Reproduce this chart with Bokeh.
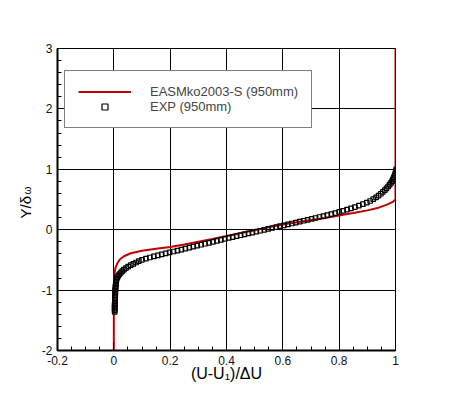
import math
from bokeh.plotting import figure
from bokeh.models import (Range1d, SingleIntervalTicker, CustomJSTickFormatter,
                          Label, Legend, LegendItem)
from bokeh.embed import file_html
from bokeh.resources import INLINE

# ---------------- data ----------------
model_name = "EASMko2003-S (950mm)"
exp_name = "EXP (950mm)"
x_label = "(U-U\u2081)/\u0394U"
y_label_main = "Y/\u03b4"
y_label_sub = "\u03c9"

model_x = [0.0, 0.0, 0.001, 0.003, 0.006, 0.012, 0.022, 0.036, 0.06, 0.1, 0.15, 0.2,
           0.25, 0.3, 0.35, 0.4, 0.45, 0.5, 0.55, 0.6, 0.65, 0.7, 0.75, 0.8, 0.85,
           0.9, 0.94, 0.97, 0.99, 1.0, 1.0]
model_y = [-2.0, -0.95, -0.80, -0.70, -0.63, -0.56, -0.49, -0.44, -0.39, -0.35, -0.315,
           -0.285, -0.245, -0.2, -0.155, -0.105, -0.055, -0.01, 0.04, 0.085, 0.125,
           0.16, 0.195, 0.235, 0.275, 0.32, 0.365, 0.415, 0.46, 0.5, 3.0]

exp_x = [0.003, 0.003, 0.003, 0.003, 0.003, 0.003, 0.004, 0.004, 0.004, 0.004, 0.004,
         0.005, 0.005, 0.005, 0.005, 0.006, 0.006, 0.006, 0.007, 0.007, 0.008, 0.009,
         0.010, 0.013, 0.016, 0.020, 0.025, 0.030, 0.036, 0.043, 0.051, 0.060, 0.069,
         0.079, 0.089, 0.100,
         0.114, 0.128, 0.142, 0.156, 0.170, 0.184, 0.198, 0.212, 0.226, 0.240, 0.254,
         0.268, 0.282, 0.296, 0.310, 0.324, 0.338, 0.352, 0.366, 0.380, 0.394, 0.408,
         0.422, 0.436, 0.450, 0.464, 0.478, 0.492, 0.506, 0.520, 0.534, 0.548, 0.562,
         0.576, 0.590, 0.604, 0.618, 0.632, 0.646, 0.660, 0.674, 0.688, 0.702, 0.716,
         0.730, 0.744, 0.758, 0.772, 0.786, 0.800, 0.814, 0.828, 0.842, 0.856, 0.870,
         0.884, 0.898,
         0.910, 0.921, 0.931, 0.940, 0.948, 0.955, 0.962, 0.968, 0.974, 0.979, 0.984,
         0.988, 0.991, 0.994, 0.997, 0.999, 1.001, 1.002, 1.003]
exp_y = [-1.36, -1.335, -1.31, -1.285, -1.26, -1.235, -1.21, -1.185, -1.16, -1.135, -1.11,
         -1.085, -1.06, -1.035, -1.01, -0.985, -0.96, -0.935, -0.91, -0.885, -0.86, -0.835,
         -0.81, -0.785, -0.76, -0.735, -0.71, -0.685, -0.66, -0.635, -0.611, -0.588, -0.566,
         -0.543, -0.520, -0.498,
         -0.478, -0.460, -0.443, -0.426, -0.410, -0.393, -0.377, -0.361, -0.345, -0.329,
         -0.313, -0.297, -0.281, -0.265, -0.249, -0.233, -0.217, -0.201, -0.185, -0.169,
         -0.153, -0.137, -0.122, -0.107, -0.092, -0.077, -0.062, -0.047, -0.032, -0.017,
         -0.002, 0.013, 0.028, 0.043, 0.058, 0.073, 0.088, 0.103, 0.118, 0.133, 0.148,
         0.163, 0.178, 0.194, 0.210, 0.226, 0.242, 0.259, 0.276, 0.294, 0.313, 0.333,
         0.353, 0.375, 0.398, 0.422, 0.447,
         0.475, 0.505, 0.535, 0.565, 0.595, 0.625, 0.655, 0.685, 0.715, 0.745, 0.775,
         0.805, 0.835, 0.865, 0.895, 0.925, 0.955, 0.98, 1.0]

# ---------------- figure ----------------
FONT = "Liberation Sans"

p = figure(width=434, height=385, x_range=Range1d(-0.2, 1.0), y_range=Range1d(-2, 3),
           output_backend="svg", toolbar_location=None,
           min_border_left=57, min_border_right=39, min_border_top=48, min_border_bottom=35)
p.background_fill_color = "white"
p.border_fill_color = "white"
p.outline_line_color = "black"
p.outline_line_width = 1

xt = SingleIntervalTicker(interval=0.2, num_minor_ticks=4)
yt = SingleIntervalTicker(interval=1, num_minor_ticks=5)
p.xaxis.ticker = xt
p.xgrid.ticker = xt
p.yaxis.ticker = yt
p.ygrid.ticker = yt

fmt = CustomJSTickFormatter(code="return String(Math.round(tick*10)/10);")
for ax in (p.xaxis, p.yaxis):
    ax.formatter = fmt
    ax.axis_line_color = "black"
    ax.axis_line_width = 2
    ax.major_tick_in = 8
    ax.major_tick_out = 0
    ax.minor_tick_in = 4
    ax.minor_tick_out = 0
    ax.major_tick_line_color = "black"
    ax.minor_tick_line_color = "black"
    ax.major_label_text_font = FONT
    ax.major_label_text_font_size = "12px"
    ax.major_label_text_color = "#111111"
p.xaxis.major_label_standoff = 5
p.yaxis.major_label_standoff = 5

p.xaxis.axis_label = x_label
p.xaxis.axis_label_standoff = -3
p.xaxis.axis_label_text_font = FONT
p.xaxis.axis_label_text_font_size = "16px"
p.xaxis.axis_label_text_font_style = "normal"
p.xaxis.axis_label_text_color = "black"

for g in (p.xgrid, p.ygrid):
    g.grid_line_color = "black"
    g.grid_line_width = 1
    g.grid_line_alpha = 1.0

r1 = p.line(model_x, model_y, line_color="#c00000", line_width=2)
r2 = p.scatter(exp_x, exp_y, marker="square", size=4.5, fill_color=None,
               line_color="black", line_width=1.2)

legend = Legend(items=[LegendItem(label=model_name, renderers=[r1]),
                       LegendItem(label=exp_name, renderers=[r2])],
                location=(7, 222), border_line_color="black", border_line_width=1,
                background_fill_color="white", background_fill_alpha=1.0,
                padding=13, spacing=0, margin=0, glyph_width=53, glyph_height=15,
                label_height=15, label_width=136, label_standoff=19,
                label_text_font=FONT, label_text_font_size="13px")
p.add_layout(legend)

# y-axis label with a subscript, placed in the left side panel
p.add_layout(Label(x=4, y=132, x_units="screen", y_units="screen", text=y_label_main,
                   angle=math.pi / 2, text_align="left", text_baseline="alphabetic",
                   text_font=FONT, text_font_size="15px", text_color="black"), "left")
p.add_layout(Label(x=17, y=156, x_units="screen", y_units="screen", text=y_label_sub,
                   angle=math.pi / 2, text_align="left", text_baseline="alphabetic",
                   text_font=FONT, text_font_size="10px", text_color="black"), "left")

open("out.html", "w").write(file_html(p, INLINE))
